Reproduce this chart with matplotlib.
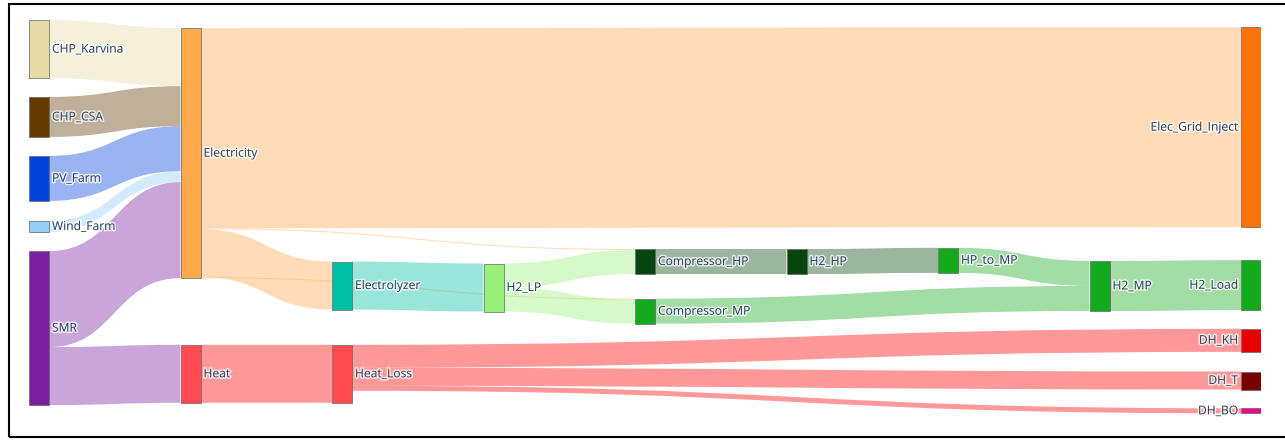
import matplotlib
matplotlib.use("Agg")
import matplotlib.pyplot as plt
from matplotlib.path import Path
from matplotlib.patches import PathPatch, Rectangle
import matplotlib.patheffects as pe

# --- nodes of the energy system ---
nodes = ["CHP_Karvina", "CHP_CSA", "PV_Farm", "Wind_Farm", "SMR",
         "Electricity", "Heat", "Electrolyzer", "Heat_Loss", "H2_LP",
         "Compressor_HP", "Compressor_MP", "H2_HP", "HP_to_MP", "H2_MP",
         "Elec_Grid_Inject", "H2_Load", "DH_KH", "DH_T", "DH_BO"]

node_colors = ["#e6daa6", "#633a00", "#0044dd", "#93cff9", "#7b1fa2",
               "#ffa94d", "#ff4a50", "#00bfa5", "#ff4a50", "#98f07a",
               "#05460f", "#14aa1e", "#05460f", "#14aa1e", "#14aa1e",
               "#fc7308", "#14aa1e", "#e60000", "#780000", "#f0008c"]

# column of each node and its vertical centre (0 = top, 1 = bottom)
node_col = [0, 0, 0, 0, 0, 1, 1, 2, 2, 3, 4, 4, 5, 6, 7, 8, 8, 8, 8, 8]
node_y = [0.074, 0.246, 0.402, 0.524, 0.782, 0.338, 0.898, 0.674, 0.898,
          0.679, 0.613, 0.739, 0.613, 0.610, 0.675, 0.272, 0.673, 0.813,
          0.915, 0.992]

# --- flows (MW) ---
link_source = ["CHP_Karvina", "CHP_CSA", "PV_Farm", "Wind_Farm", "SMR", "SMR",
               "Electricity", "Electricity", "Electricity", "Electricity",
               "Electrolyzer", "H2_LP", "H2_LP", "Compressor_HP", "H2_HP",
               "HP_to_MP", "Compressor_MP", "H2_MP",
               "Heat", "Heat_Loss", "Heat_Loss", "Heat_Loss"]
link_target = ["Electricity", "Electricity", "Electricity", "Electricity",
               "Electricity", "Heat",
               "Elec_Grid_Inject", "Electrolyzer", "Compressor_HP", "Compressor_MP",
               "H2_LP", "Compressor_HP", "Compressor_MP", "H2_HP", "HP_to_MP",
               "H2_MP", "H2_MP", "H2_Load",
               "Heat_Loss", "DH_KH", "DH_T", "DH_BO"]
link_value = [58, 40, 45, 11, 96, 58,
              200, 48, 1, 1,
              48, 24, 24, 25, 25,
              25, 25, 50,
              58, 23, 18, 5]

link_colors = {
    "CHP_Karvina": "#e6daa6", "CHP_CSA": "#633a00", "PV_Farm": "#0044dd",
    "Wind_Farm": "#93cff9", "SMR": "#7b1fa2", "Electricity": "#ffa94d",
    "Electrolyzer": "#00bfa5", "H2_LP": "#98f07a", "Compressor_HP": "#05460f",
    "H2_HP": "#05460f", "Compressor_MP": "#14aa1e", "HP_to_MP": "#14aa1e",
    "H2_MP": "#14aa1e", "Heat": "#ff0000", "Heat_Loss": "#ff0000",
}
link_alpha = 0.4

W, H = 1285, 440
plot_h = 394          # drawing height in MW (1 px per MW)
col_gap = 151.5
node_w = 20
n_cols = max(node_col) + 1
span_x = (n_cols - 1) * col_gap + node_w

fig = plt.figure(figsize=(W / 100, H / 100), dpi=100)
ax = fig.add_axes([29 / W, (H - 20 - plot_h) / H, span_x / W, plot_h / H])
ax.set_xlim(0, span_x)
ax.set_ylim(plot_h, 0)
ax.axis("off")

idx = {n: i for i, n in enumerate(nodes)}
n = len(nodes)
in_sum = [0.0] * n
out_sum = [0.0] * n
for s, t, v in zip(link_source, link_target, link_value):
    out_sum[idx[s]] += v
    in_sum[idx[t]] += v
height = [max(a, b) for a, b in zip(in_sum, out_sum)]
x0 = [c * col_gap for c in node_col]
top = [yc * plot_h - h / 2 for yc, h in zip(node_y, height)]

# stack links on each side ordered by the other end's position
links = list(range(len(link_value)))
src_off, tgt_off = {}, {}
for i in range(n):
    outs = sorted([k for k in links if idx[link_source[k]] == i],
                  key=lambda k: node_y[idx[link_target[k]]])
    y = top[i]
    for k in outs:
        src_off[k] = y
        y += link_value[k]
    ins = sorted([k for k in links if idx[link_target[k]] == i],
                 key=lambda k: node_y[idx[link_source[k]]])
    y = top[i]
    for k in ins:
        tgt_off[k] = y
        y += link_value[k]

for k in links:
    s, t, v = idx[link_source[k]], idx[link_target[k]], link_value[k]
    xa = x0[s] + node_w
    xb = x0[t]
    xm = (xa + xb) / 2
    ya, yb = src_off[k], tgt_off[k]
    verts = [(xa, ya), (xm, ya), (xm, yb), (xb, yb),
             (xb, yb + v), (xm, yb + v), (xm, ya + v), (xa, ya + v), (xa, ya)]
    codes = [Path.MOVETO, Path.CURVE4, Path.CURVE4, Path.CURVE4,
             Path.LINETO, Path.CURVE4, Path.CURVE4, Path.CURVE4, Path.CLOSEPOLY]
    ax.add_patch(PathPatch(Path(verts, codes), facecolor=link_colors[link_source[k]],
                           alpha=link_alpha, edgecolor="none", lw=0))

halo = [pe.withStroke(linewidth=2.2, foreground="white", alpha=0.75)]
for i, name in enumerate(nodes):
    ax.add_patch(Rectangle((x0[i], top[i]), node_w, height[i],
                           facecolor=node_colors[i], edgecolor="#666666", lw=0.5))
    yc = top[i] + height[i] / 2
    if node_col[i] == n_cols - 1:
        ax.text(x0[i] - 3, yc, name, ha="right", va="center", fontsize=8.7,
                family="Open Sans", color="#2a3f5f", path_effects=halo)
    else:
        ax.text(x0[i] + node_w + 3, yc, name, ha="left", va="center", fontsize=8.7,
                family="Open Sans", color="#2a3f5f", path_effects=halo)

# outer frame
fig.patches.append(Rectangle((9 / W, 3 / H), (W + 10) / W, 433 / H,
                             transform=fig.transFigure, fill=False,
                             edgecolor="black", lw=1.5))

fig.savefig("out.png", dpi=100, facecolor="white")
